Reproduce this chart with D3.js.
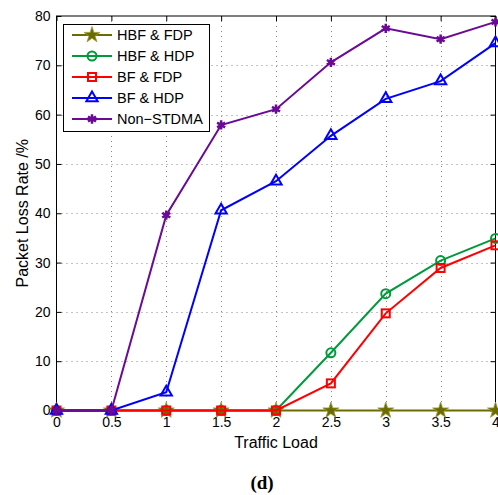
<!DOCTYPE html>
<html>
<head>
<meta charset="utf-8">
<script src="https://cdn.jsdelivr.net/npm/d3@7"></script>
<style>
  body { margin: 0; background: #fff; }
  svg { display: block; font-family: "Liberation Sans", Arial, sans-serif; }
</style>
</head>
<body>
<svg id="chart" width="498" height="495"></svg>
<script>
// data
const loads = [0, 0.5, 1, 1.5, 2, 2.5, 3, 3.5, 4];
const hbfFdp = [0, 0, 0, 0, 0, 0, 0, 0, 0];
const hbfHdp = [0, 0, 0, 0, 0, 11.7, 23.7, 30.4, 34.9];
const bfFdp = [0, 0, 0, 0, 0, 5.5, 19.7, 28.9, 33.5];
const bfHdp = [0, 0, 3.7, 40.6, 46.5, 55.7, 63.2, 66.8, 74.5];
const nonStdma = [0, 0, 39.6, 57.9, 61.1, 70.6, 77.5, 75.3, 78.8];
const seriesNames = ["HBF & FDP", "HBF & HDP", "BF & FDP", "BF & HDP", "Non\u2212STDMA"];
const xTicks = [0, 0.5, 1, 1.5, 2, 2.5, 3, 3.5, 4];
const yTicks = [0, 10, 20, 30, 40, 50, 60, 70, 80];

const series = [
  { name: seriesNames[0], values: hbfFdp, color: "#6b6b00", marker: "star" },
  { name: seriesNames[1], values: hbfHdp, color: "#009a3a", marker: "circle" },
  { name: seriesNames[2], values: bfFdp, color: "#ff0000", marker: "square" },
  { name: seriesNames[3], values: bfHdp, color: "#0000ff", marker: "triangle" },
  { name: seriesNames[4], values: nonStdma, color: "#6a0a96", marker: "asterisk" }
];

const svg = d3.select("#chart");
const plotL = 56.5, plotR = 495.5, plotT = 16, plotB = 410.5;

const x = d3.scaleLinear().domain([0, 4]).range([plotL, plotR]);
const y = d3.scaleLinear().domain([0, 80]).range([plotB, plotT]);

// dotted grid
const grid = svg.append("g").attr("stroke", "#888").attr("stroke-width", 1)
  .attr("stroke-dasharray", "1 4");
grid.selectAll(".gx").data(xTicks.slice(1, -1)).enter().append("line")
  .attr("x1", d => Math.round(x(d)) + 0.5).attr("x2", d => Math.round(x(d)) + 0.5)
  .attr("y1", plotT).attr("y2", plotB);
grid.selectAll(".gy").data(yTicks.slice(1, -1)).enter().append("line")
  .attr("y1", d => Math.round(y(d)) + 0.5).attr("y2", d => Math.round(y(d)) + 0.5)
  .attr("x1", plotL).attr("x2", plotR);

// axes, ticks pointing inwards like matlab
svg.append("g").attr("transform", `translate(0,${plotB})`)
  .call(d3.axisBottom(x).tickValues(xTicks).tickSize(-5).tickPadding(7).tickFormat(d3.format("")));
svg.append("g").attr("transform", `translate(${plotL},0)`)
  .call(d3.axisLeft(y).tickValues(yTicks).tickSize(-5).tickPadding(6));
svg.append("g").attr("transform", `translate(0,${plotT})`)
  .call(d3.axisTop(x).tickValues(xTicks).tickSize(-5).tickFormat(""));
svg.append("g").attr("transform", `translate(${plotR},0)`)
  .call(d3.axisRight(y).tickValues(yTicks).tickSize(-5).tickFormat(""));
svg.selectAll(".domain").remove();
svg.selectAll(".tick text").attr("font-size", 14).attr("fill", "#000")
  .attr("font-family", "Liberation Sans, Arial, sans-serif");

svg.append("rect").attr("x", plotL).attr("y", plotT)
  .attr("width", plotR - plotL).attr("height", plotB - plotT)
  .attr("fill", "none").attr("stroke", "#000").attr("stroke-width", 1);

// markers
function drawMarker(g, type, color) {
  if (type === "star") {
    g.append("path").attr("d", d3.symbol(d3.symbolStar, 80)())
      .attr("fill", color).attr("stroke", "#9c9c3c").attr("stroke-width", 0.8);
  } else if (type === "circle") {
    g.append("circle").attr("r", 4.5).attr("fill", "none")
      .attr("stroke", color).attr("stroke-width", 2);
  } else if (type === "square") {
    g.append("rect").attr("x", -4).attr("y", -4).attr("width", 8).attr("height", 8)
      .attr("fill", "none").attr("stroke", color).attr("stroke-width", 2);
  } else if (type === "triangle") {
    g.append("path").attr("d", d3.symbol(d3.symbolTriangle, 55)())
      .attr("fill", "none").attr("stroke", color).attr("stroke-width", 2);
  } else {
    g.append("path").attr("d", d3.symbol(d3.symbolAsterisk, 60)())
      .attr("fill", "none").attr("stroke", color).attr("stroke-width", 2.5);
    g.append("circle").attr("r", 2.5).attr("fill", color);
  }
}

const line = d3.line().x((d, i) => x(loads[i])).y(d => y(d));

series.forEach(s => {
  const g = svg.append("g");
  g.append("path").datum(s.values).attr("d", line)
    .attr("fill", "none").attr("stroke", s.color).attr("stroke-width", 2);
  s.values.forEach((v, i) => {
    const m = g.append("g").attr("transform", `translate(${x(loads[i])},${y(v)})`);
    drawMarker(m, s.marker, s.color);
  });
});

// legend
const legend = svg.append("g");
legend.append("rect").attr("x", 63.5).attr("y", 24.5).attr("width", 146).attr("height", 107)
  .attr("fill", "#fff").attr("stroke", "#000").attr("stroke-width", 1);
series.forEach((s, i) => {
  const ly = 35 + i * 21;
  legend.append("line").attr("x1", 72).attr("x2", 112).attr("y1", ly).attr("y2", ly)
    .attr("stroke", s.color).attr("stroke-width", 2);
  drawMarker(legend.append("g").attr("transform", `translate(92,${ly})`), s.marker, s.color);
  legend.append("text").attr("x", 117).attr("y", ly + 5).attr("font-size", 14.5)
    .attr("fill", "#000").text(s.name);
});

// axis labels
svg.append("text").attr("x", (plotL + plotR) / 2).attr("y", 448)
  .attr("text-anchor", "middle").attr("font-size", 16).text("Traffic Load");
svg.append("text").attr("transform", `translate(28,${(plotT + plotB) / 2}) rotate(-90)`)
  .attr("text-anchor", "middle").attr("font-size", 16).text("Packet Loss Rate /%");

svg.append("text").attr("x", 262).attr("y", 489).attr("text-anchor", "middle")
  .attr("font-family", "Liberation Serif, Times New Roman, serif")
  .attr("font-weight", "bold").attr("font-size", 19).text("(d)");
</script>
</body>
</html>
